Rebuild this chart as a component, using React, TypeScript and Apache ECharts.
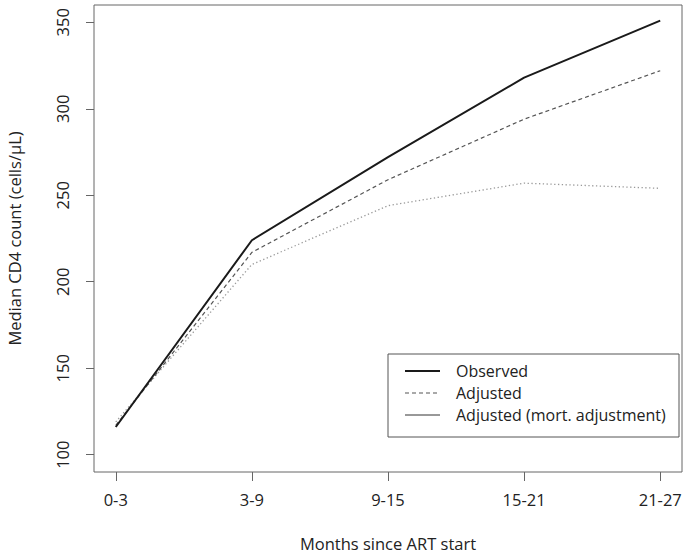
import React, { useEffect, useRef } from "react";
import * as echarts from "echarts";

const categories = ["0-3", "3-9", "9-15", "15-21", "21-27"];
const observed = [116, 224, 272, 318, 351];
const adjusted = [117, 217, 259, 294, 322];
const adjustedMort = [119, 210, 244, 257, 254];
const yTicks = [100, 150, 200, 250, 300, 350];
const legendNames = ["Observed", "Adjusted", "Adjusted (mort. adjustment)"];

const FONT = "Open Sans";
const FS = 16.5;
const LEGEND_FS = 16;

export default function App() {
  const ref = useRef<HTMLDivElement>(null);
  useEffect(() => {
    if (!ref.current) return;
    const chart = echarts.init(ref.current, null, { renderer: "svg" });
    const xIdx = categories.map((_, i) => i + 1);
    const toPairs = (arr: number[]) => arr.map((v, i) => [xIdx[i], v]);
    const legendX = 388;
    const legendY = 354;
    const rowY = [371, 393, 415];
    const legendLines = [
      { stroke: "#1a1a1a", lineWidth: 2, lineDash: null as any },
      { stroke: "#555", lineWidth: 1.2, lineDash: [4, 3] },
      { stroke: "#333", lineWidth: 1, lineDash: null as any },
    ];
    const graphics: any[] = [
      {
        type: "rect",
        shape: { x: legendX, y: legendY, width: 291, height: 83 },
        style: { fill: "#fff", stroke: "#555", lineWidth: 1 },
        z: 10,
      },
    ];
    legendNames.forEach((name, i) => {
      graphics.push({
        type: "line",
        shape: { x1: 405, y1: rowY[i], x2: 440, y2: rowY[i] },
        style: {
          stroke: legendLines[i].stroke,
          lineWidth: legendLines[i].lineWidth,
          lineDash: legendLines[i].lineDash,
        },
        z: 11,
      });
      graphics.push({
        type: "text",
        x: 456,
        y: rowY[i],
        style: {
          text: name,
          fontFamily: FONT,
          fontSize: LEGEND_FS,
          lineHeight: 18,
          fill: "#222",
          verticalAlign: "middle",
        },
        z: 11,
      });
    });

    chart.setOption({
      animation: false,
      backgroundColor: "#fff",
      textStyle: { fontFamily: FONT },
      grid: {
        left: 94,
        right: 1,
        top: 5,
        bottom: 82,
        show: true,
        borderColor: "#666",
        borderWidth: 1,
        containLabel: false,
        outerBoundsMode: "none",
      },
      xAxis: {
        type: "value",
        min: 0.84,
        max: 5.16,
        name: "Months since ART start",
        nameLocation: "middle",
        nameGap: 63,
        nameTextStyle: { fontFamily: FONT, fontSize: FS, color: "#222" },
        axisLine: { show: false },
        splitLine: { show: false },
        axisTick: {
          show: true,
          customValues: xIdx,
          length: 9,
          lineStyle: { color: "#666" },
        },
        axisLabel: {
          customValues: xIdx,
          formatter: (v: number) => categories[Math.round(v) - 1] ?? "",
          fontFamily: FONT,
          fontSize: FS,
          color: "#222",
          margin: 19,
        },
      },
      yAxis: {
        type: "value",
        min: 90,
        max: 360,
        name: "Median CD4 count (cells/μL)",
        nameLocation: "middle",
        nameGap: 71,
        nameTextStyle: { fontFamily: FONT, fontSize: FS, color: "#222" },
        axisLine: { show: false },
        splitLine: { show: false },
        axisTick: {
          show: true,
          customValues: yTicks,
          length: 8,
          lineStyle: { color: "#666" },
        },
        axisLabel: {
          customValues: yTicks,
          rotate: 90,
          fontFamily: FONT,
          fontSize: FS,
          color: "#222",
          margin: 23,
        },
      },
      series: [
        {
          name: legendNames[0],
          type: "line",
          data: toPairs(observed),
          symbol: "none",
          lineStyle: { color: "#1a1a1a", width: 2 },
          z: 5,
        },
        {
          name: legendNames[1],
          type: "line",
          data: toPairs(adjusted),
          symbol: "none",
          lineStyle: { color: "#555", width: 1.2, type: [4, 3] },
          z: 4,
        },
        {
          name: legendNames[2],
          type: "line",
          data: toPairs(adjustedMort),
          symbol: "none",
          lineStyle: { color: "#999", width: 1.3, type: [1.3, 2.5] },
          z: 3,
        },
      ],
      graphic: graphics,
    });
    return () => chart.dispose();
  }, []);
  return (
    <div
      ref={ref}
      style={{ position: "absolute", left: 0, top: 0, width: 683, height: 554 }}
    />
  );
}
